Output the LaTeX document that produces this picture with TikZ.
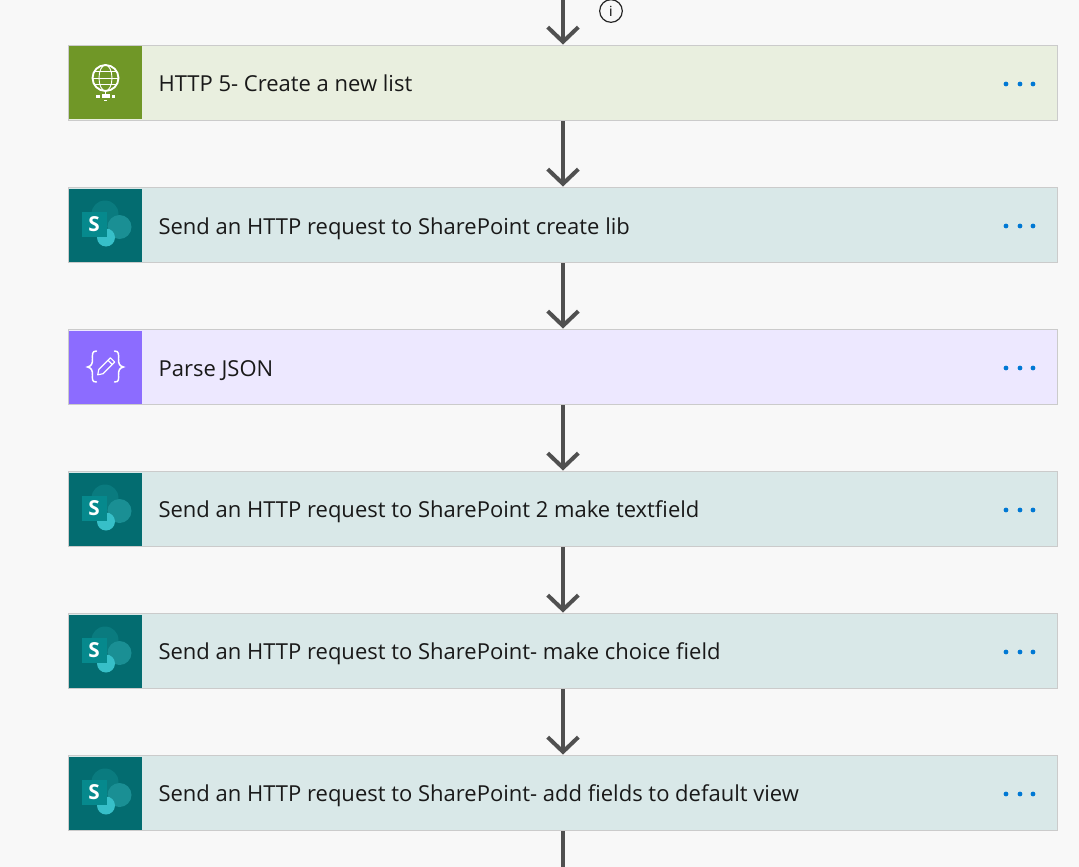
\documentclass[tikz,border=0pt]{standalone}
\usepackage{fontspec}
\setmainfont{Open Sans}
\usetikzlibrary{arrows.meta}
\definecolor{pagebg}{HTML}{F8F8F8}
\definecolor{cardedge}{HTML}{CBCBCB}
\definecolor{httpbg}{HTML}{E9EFDF}
\definecolor{httpicon}{HTML}{709727}
\definecolor{spbg}{HTML}{D9E8E8}
\definecolor{spicon}{HTML}{036C70}
\definecolor{sptop}{HTML}{0A7B7F}
\definecolor{spright}{HTML}{1A8F94}
\definecolor{splow}{HTML}{37BFC8}
\definecolor{spsquare}{HTML}{06898D}
\definecolor{jsonbg}{HTML}{EDE8FF}
\definecolor{jsonicon}{HTML}{8C6CFF}
\definecolor{dotblue}{HTML}{0078D4}
\definecolor{linkgray}{HTML}{505050}
\tikzset{%
    card/.style={draw=cardedge,line width=0.8pt,minimum width=741.75pt,minimum height=56.25pt,inner sep=0pt},%
    iconbox/.style={minimum width=54.75pt,minimum height=54.75pt,inner sep=0pt},%
    cardtext/.style={anchor=base west,inner sep=0pt,font=\fontsize{16.5pt}{18pt}\selectfont,text=black!90},%
    link/.style={draw=linkgray,line width=3pt,-{Straight Barb[length=11pt,width=23pt,line width=3pt]},shorten >=0.3pt},%
    menudot/.style={circle,fill=dotblue,minimum size=3.6pt,inner sep=0pt},%
    pics/globe/.style={code={%
        \draw[white,line width=1.4pt] (0,-5) circle(13);%
        \draw[white,line width=0.7pt] (0,-5) ellipse(6.5 and 13);%
        \draw[white,line width=0.7pt] (-13,-5) -- (13,-5);%
        \draw[white,line width=0.7pt] (-11,-11.5) -- (11,-11.5);%
        \draw[white,line width=0.7pt] (-11,1.5) -- (11,1.5);%
        \draw[white,line width=1.3pt] (0,8) -- (0,13);%
        \fill[white] (-9.5,12.5) rectangle (-6,15.5);%
        \fill[white] (-4,11.5) rectangle (4,15.5);%
        \fill[white] (6,12.5) rectangle (9.5,15.5);%
        \fill[white] (-1.5,17) rectangle (1.5,18);%
    }},%
    pics/sharepoint/.style={code={%
        \fill[sptop] (-0.5,-11) circle(13.5);%
        \fill[spright] (14,2) circle(12);%
        \fill[splow] (0.5,12.5) circle(9);%
        \fill[spsquare] (-24,-13) rectangle (1,12);%
        \node[text=white,inner sep=0pt,font=\fontsize{15.5pt}{15pt}\bfseries\selectfont] (sletter) at (-11.5,-0.5) {S};%
    }},%
    pics/curly/.style={code={%
        \draw[white,line width=1.1pt,line cap=round] (-9,-16) .. controls (-14,-16) and (-13,-12) .. (-13,-8) .. controls (-13,-3) and (-14,-1) .. (-18,0) .. controls (-14,1) and (-13,3) .. (-13,8) .. controls (-13,12) and (-14,15) .. (-9,15);%
        \draw[white,line width=1.1pt,line cap=round] (9,-16) .. controls (14,-16) and (13,-12) .. (13,-8) .. controls (13,-3) and (14,-1) .. (18,0) .. controls (14,1) and (13,3) .. (13,8) .. controls (13,12) and (14,15) .. (9,15);%
        \begin{scope}[rotate=45]%
            \draw[white,line width=0.9pt,line join=round] (-11,0) -- (-6.5,-3) -- (10,-3) -- (10,3) -- (-6.5,3) -- cycle;%
            \draw[white,line width=0.9pt] (6.5,-3) -- (6.5,3);%
        \end{scope}%
    }},%
}
\begin{document}
\begin{tikzpicture}[x=0.75pt,y=-0.75pt]%
    \useasboundingbox[fill=pagebg] (0,0) rectangle (1079,867);%
    % cards, top to bottom
    \foreach \cardname/\ypos/\ybase/\bgcol/\iconcol/\iconpic/\cardlabel in {%
        httpcard/83/92/httpbg/httpicon/globe/{HTTP 5- Create a new list},%
        createlib/225/234/spbg/spicon/sharepoint/{Send an HTTP request to SharePoint create lib},%
        parsejson/367/376/jsonbg/jsonicon/curly/{Parse JSON},%
        textfield/509/517/spbg/spicon/sharepoint/{Send an HTTP request to SharePoint 2 make textfield},%
        choicefield/651/659/spbg/spicon/sharepoint/{Send an HTTP request to SharePoint- make choice field},%
        defaultview/793/801/spbg/spicon/sharepoint/{Send an HTTP request to SharePoint- add fields to default view}} {%
        \node[card,fill=\bgcol] (\cardname) at (563,\ypos) {};%
        \node[iconbox,fill=\iconcol] (\cardname-icon) at (105.5,\ypos) {};%
        \pic at (\cardname-icon.center) {\iconpic};%
        \node[cardtext] (\cardname-text) at (158.3,\ybase) {\cardlabel};%
        \node[menudot] (\cardname-dota) at (1006,\ypos+1) {};%
        \node[menudot] (\cardname-dotb) at (1020,\ypos+1) {};%
        \node[menudot] (\cardname-dotc) at (1033,\ypos+1) {};%
    }%
    % connectors
    \coordinate (topend) at (563,0);%
    \coordinate (bottomend) at (563,867);%
    \draw[link] (topend) -- (httpcard.north);%
    \foreach \fromcard/\tocard in {httpcard/createlib,createlib/parsejson,parsejson/textfield,textfield/choicefield,choicefield/defaultview} {%
        \draw[link] (\fromcard.south) -- (\tocard.north);%
    }%
    \draw[draw=linkgray,line width=3pt] (defaultview.south) -- (bottomend);%
    % info mark
    \node[circle,draw=black!85,line width=0.9pt,minimum size=17pt,inner sep=0pt,font=\fontsize{10.5pt}{11pt}\selectfont] (infomark) at (611,11) {i};%
\end{tikzpicture}
\end{document}
